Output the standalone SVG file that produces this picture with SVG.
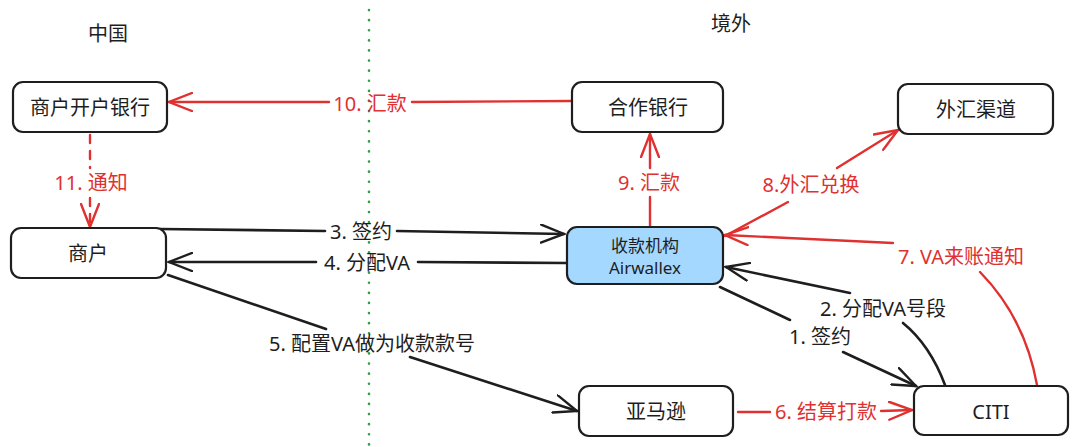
<svg xmlns="http://www.w3.org/2000/svg" width="1080" height="447" viewBox="0 0 1080 447">
<style>
.node{fill:#ffffff;stroke:#1e1e1e;stroke-width:2.2}
.blue{fill:#a5d8ff}
.t{font-family:"Noto Sans","Noto Sans CJK SC",sans-serif;font-size:20px;fill:#1e1e1e;text-anchor:middle;dominant-baseline:central}
.s{font-size:17px}
.lb{font-family:"Noto Sans","Noto Sans CJK SC",sans-serif;font-size:20px;fill:#1e1e1e;text-anchor:middle;dominant-baseline:central}
.red{fill:#e03131}
.k{fill:none;stroke:#1e1e1e;stroke-width:2.6;stroke-linecap:round}
.r{fill:none;stroke:#e03131;stroke-width:2.4;stroke-linecap:round}
</style>
<defs>
<marker id="ak" viewBox="0 0 26 20" refX="24" refY="10" markerWidth="26" markerHeight="20" markerUnits="userSpaceOnUse" orient="auto">
<path d="M1,1 L24,10 L1,19" fill="none" stroke="#1e1e1e" stroke-width="2.4" stroke-linecap="round"/>
</marker>
<marker id="ar" viewBox="0 0 26 20" refX="24" refY="10" markerWidth="26" markerHeight="20" markerUnits="userSpaceOnUse" orient="auto">
<path d="M1,1 L24,10 L1,19" fill="none" stroke="#e03131" stroke-width="2.4" stroke-linecap="round"/>
</marker>
</defs>
<rect width="1080" height="447" fill="#ffffff"/>

<g id="divider">
<line x1="369" y1="10" x2="369" y2="445" stroke="#2f9e44" stroke-width="2.6" stroke-dasharray="0.1 10" stroke-linecap="round"/>
</g>
<g id="regions">
<text class="t" x="108" y="33">中国</text>
<text class="t" x="731" y="23">境外</text>
</g>

<g id="connectors">
<!-- 10 -->
<line class="r" x1="572" y1="101" x2="412" y2="102"/>
<line class="r" x1="329" y1="102" x2="169" y2="102" marker-end="url(#ar)"/>
<text class="lb red" x="370" y="103">10. 汇款</text>
<!-- 11 -->
<line class="r" x1="90" y1="135" x2="90" y2="168" stroke-dasharray="8 8"/>
<line class="r" x1="90" y1="198" x2="90" y2="227" stroke-dasharray="8 8" marker-end="url(#ar)"/>
<text class="lb red" x="91" y="182">11. 通知</text>
<!-- 3 -->
<line class="k" x1="160" y1="229" x2="325" y2="231"/>
<line class="k" x1="397" y1="231" x2="564" y2="234" marker-end="url(#ak)"/>
<text class="lb" x="361" y="231">3. 签约</text>
<!-- 4 -->
<line class="k" x1="566" y1="263" x2="418" y2="262"/>
<line class="k" x1="316" y1="262" x2="169" y2="262" marker-end="url(#ak)"/>
<text class="lb" x="367" y="262">4. 分配VA</text>
<!-- 5 -->
<line class="k" x1="168" y1="275" x2="326" y2="329"/>
<line class="k" x1="410" y1="357" x2="577" y2="411" marker-end="url(#ak)"/>
<text class="lb" x="372" y="343">5. 配置VA做为收款款号</text>
<!-- 6 -->
<line class="r" x1="738" y1="412" x2="770" y2="412"/>
<line class="r" x1="881" y1="411" x2="912" y2="410" marker-end="url(#ar)"/>
<text class="lb red" x="826" y="411">6. 结算打款</text>
<!-- 1 -->
<line class="k" x1="720" y1="287" x2="790" y2="320"/>
<line class="k" x1="843" y1="352" x2="916" y2="386" marker-end="url(#ak)"/>
<text class="lb" x="820" y="336">1. 签约</text>
<!-- 2 -->
<path class="k" d="M945,385 Q930,345 903,323"/>
<line class="k" x1="850" y1="293" x2="726" y2="267" marker-end="url(#ak)"/>
<text class="lb" x="883" y="308">2. 分配VA号段</text>
<!-- 7 -->
<path class="r" d="M1037,385 Q1025,318 980,272"/>
<line class="r" x1="893" y1="243" x2="725" y2="235" marker-end="url(#ar)"/>
<text class="lb red" x="961" y="256">7. VA来账通知</text>
<!-- 8 -->
<line class="r" x1="788" y1="202" x2="725" y2="236"/>
<line class="r" x1="837" y1="168" x2="898" y2="130" marker-end="url(#ar)"/>
<text class="lb red" x="811" y="184">8.外汇兑换</text>
<!-- 9 -->
<line class="r" x1="650" y1="226" x2="650" y2="197"/>
<line class="r" x1="650" y1="168" x2="650" y2="134" marker-end="url(#ar)"/>
<text class="lb red" x="649" y="182">9. 汇款</text>
</g>

<g id="node-merchant-bank">
<rect class="node" x="13" y="82" width="154" height="50" rx="10"/>
<text class="t" x="90" y="107">商户开户银行</text>
</g>
<g id="node-merchant">
<rect class="node" x="11" y="228" width="155" height="50" rx="10"/>
<text class="t" x="88" y="253">商户</text>
</g>
<g id="node-partner-bank">
<rect class="node" x="572" y="82" width="151" height="50" rx="10"/>
<text class="t" x="648" y="107">合作银行</text>
</g>
<g id="node-fx">
<rect class="node" x="898" y="84" width="155" height="50" rx="10"/>
<text class="t" x="976" y="109">外汇渠道</text>
</g>
<g id="node-airwallex">
<rect class="node blue" x="567" y="227" width="156" height="57" rx="10"/>
<text class="t s" x="645" y="245">收款机构</text>
<text class="t s" x="645" y="267">Airwallex</text>
</g>
<g id="node-amazon">
<rect class="node" x="579" y="386" width="154" height="50" rx="10"/>
<text class="t" x="656" y="411">亚马逊</text>
</g>
<g id="node-citi">
<rect class="node" x="914" y="386" width="154" height="49" rx="10"/>
<text class="t" x="991" y="411">CITI</text>
</g>
</svg>
